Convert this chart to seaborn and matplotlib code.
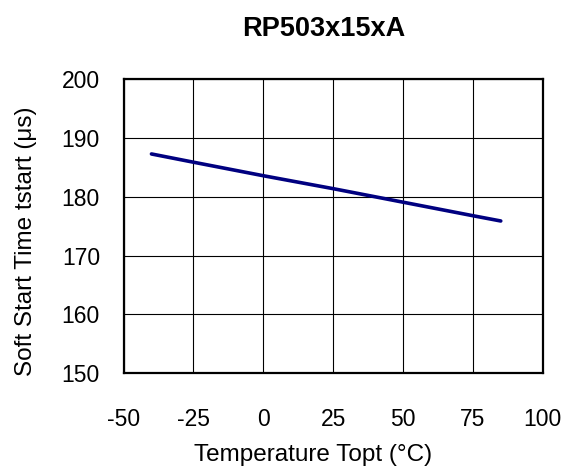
import numpy as np
import pandas as pd
import matplotlib
matplotlib.use("Agg")
import matplotlib.pyplot as plt
import seaborn as sns

# values
temperature_c = [-40, -25, 0, 25, 50, 75, 85]
soft_start_us = [187.3, 185.9, 183.6, 181.4, 179.1, 176.8, 175.9]

x_ticks = [-50, -25, 0, 25, 50, 75, 100]
y_ticks = [150, 160, 170, 180, 190, 200]

df = pd.DataFrame({"temp": temperature_c, "tstart": soft_start_us})

sns.set_style("white")
plt.rcParams["font.family"] = ["Liberation Sans", "DejaVu Sans"]
plt.rcParams["axes.unicode_minus"] = False
plt.rcParams["text.color"] = "black"

fig = plt.figure(figsize=(5.65, 4.68), dpi=100)
ax = fig.add_axes([0.2186, 0.2024, 0.7419, 0.6282])

sns.lineplot(data=df, x="temp", y="tstart", ax=ax, color="#000080", linewidth=2.6)

ax.set_xlim(-50, 100)
ax.set_ylim(150, 200)
ax.set_xticks(x_ticks)
ax.set_yticks(y_ticks)
ax.grid(True, color="black", linewidth=0.8)
for s in ax.spines.values():
    s.set_color("black")
    s.set_linewidth(1.6)

ax.tick_params(axis="x", length=0, pad=25, labelsize=16.5, colors="black")
ax.tick_params(axis="y", length=0, pad=17, labelsize=16.5, colors="black")

ax.set_xlabel("Temperature Topt (°C)", fontsize=17.5, color="black")
ax.xaxis.set_label_coords(0.453, -0.24)
ax.set_ylabel("Soft Start Time tstart (μs)", fontsize=17.5, color="black")
ax.yaxis.set_label_coords(-0.207, 0.448)

ax.set_title("RP503x15xA", fontsize=19.5, fontweight="bold", pad=31, x=0.478, color="black")

fig.savefig("out.png", dpi=100)
plt.close(fig)
